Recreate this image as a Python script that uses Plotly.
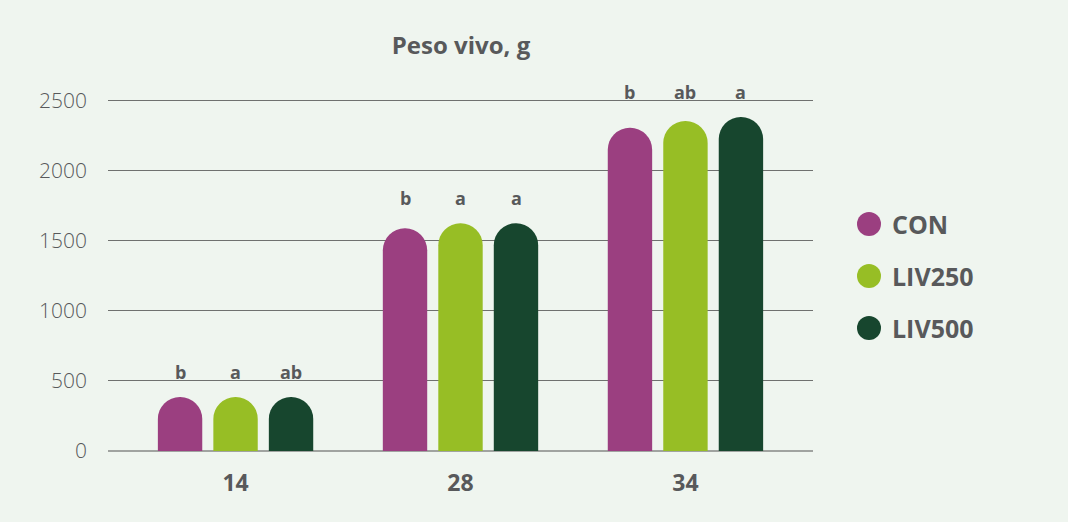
import plotly.graph_objects as go

days = ["14", "28", "34"]
series_names = ["CON", "LIV250", "LIV500"]
con = [385, 1588, 2305]
liv250 = [385, 1624, 2353]
liv500 = [385, 1624, 2381]
letters_con = ["b", "b", "b"]
letters_liv250 = ["a", "a", "ab"]
letters_liv500 = ["ab", "a", "a"]
y_ticks = [0, 500, 1000, 1500, 2000, 2500]

colors = ["#9B3F80", "#97BE25", "#17462E"]
text_color = "#58595B"
bg = "#EFF5EF"
font_family = "'Open Sans', Lato, sans-serif"

values = [con, liv250, liv500]
letters = [letters_con, letters_liv250, letters_liv500]

W, H = 1068, 522
ML, MR, MT, MB = 108, 255, 99, 71

fig = go.Figure()
for name, vals, col, lets in zip(series_names, values, colors, letters):
    fig.add_trace(go.Bar(
        x=days, y=vals, name=name, showlegend=False,
        marker=dict(color=col, cornerradius="50%", line=dict(width=0)),
        hoverinfo="y",
    ))

# significance letters: common baseline per group above the tallest bar
group_max = [max(v[i] for v in values) for i in range(len(days))]
for si, lets in enumerate(letters):
    for gi in range(len(days)):
        fig.add_annotation(
            x=gi, y=group_max[gi], xref="x", yref="y",
            text="<b>%s</b>" % lets[gi], showarrow=False,
            xshift=(si - 1) * 55.5, yshift=11, yanchor="bottom",
            font=dict(size=18, color=text_color, family=font_family),
        )

# manual legend (large circles + bold labels)
leg_y = [224, 276, 328]
for name, col, py in zip(series_names, colors, leg_y):
    cx = 869
    r = 12
    fig.add_shape(type="circle", xref="paper", yref="paper",
                  x0=(cx - r - ML) / (W - ML - MR), x1=(cx + r - ML) / (W - ML - MR),
                  y0=(H - MB - (py + r)) / (H - MT - MB), y1=(H - MB - (py - r)) / (H - MT - MB),
                  fillcolor=col, line=dict(width=0))
    fig.add_annotation(xref="paper", yref="paper",
                       x=(890 - ML) / (W - ML - MR), y=(H - MB - py) / (H - MT - MB),
                       xanchor="left", yanchor="middle", showarrow=False,
                       text="<b>%s</b>" % name,
                       font=dict(size=25, color=text_color, family=font_family))

fig.update_layout(
    width=W, height=H,
    paper_bgcolor=bg, plot_bgcolor=bg,
    margin=dict(l=ML, r=MR, t=MT, b=MB),
    barmode="group", bargap=0.26, bargroupgap=0.2,
    showlegend=False,
    title=dict(text="<b>Peso vivo, g</b>", x=461 / W, xanchor="center",
               y=1 - 46 / H, yanchor="middle",
               font=dict(size=24, color=text_color, family=font_family)),
    font=dict(family=font_family, color=text_color),
    xaxis=dict(type="category", range=[-0.567, 2.567], showgrid=False,
               showline=False, zeroline=False, ticks="",
               ticklabelstandoff=16,
               tickfont=dict(size=23, color=text_color, family=font_family),
               tickprefix="<b>", ticksuffix="</b>"),
    yaxis=dict(range=[0, 2510], tickvals=y_ticks, showgrid=True,
               gridcolor="#6F716F", gridwidth=1, zeroline=True,
               zerolinecolor="#A0A3A0", zerolinewidth=2, showline=False,
               ticks="", ticklabelstandoff=20,
               tickfont=dict(size=21, color=text_color, family=font_family,
                             weight=300)),
)

fig.write_html("out.html", config={"displayModeBar": False},
               post_script="document.body.style.margin='0';")
